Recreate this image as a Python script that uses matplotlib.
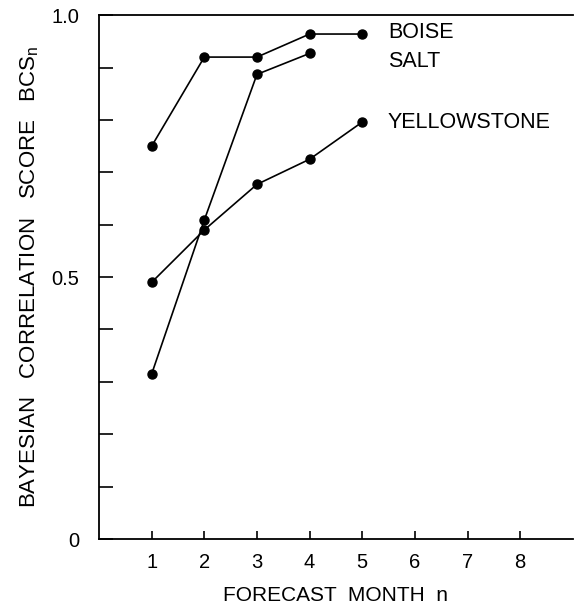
import matplotlib
matplotlib.use("Agg")
import matplotlib.pyplot as plt

plt.rcParams["font.family"] = ["Liberation Sans", "DejaVu Sans"]

# forecast month n
months_boise = [1, 2, 3, 4, 5]
bcs_boise = [0.75, 0.92, 0.92, 0.964, 0.964]

months_salt = [1, 2, 3, 4]
bcs_salt = [0.315, 0.609, 0.887, 0.927]

months_yellowstone = [1, 2, 3, 4, 5]
bcs_yellowstone = [0.49, 0.59, 0.677, 0.725, 0.796]

series_labels = ["BOISE", "SALT", "YELLOWSTONE"]
label_y = [0.967, 0.912, 0.796]

x_ticks = [1, 2, 3, 4, 5, 6, 7, 8]
y_ticks = [0, 0.1, 0.2, 0.3, 0.4, 0.5, 0.6, 0.7, 0.8, 0.9, 1.0]
y_ticklabels = ["0", "", "", "", "", "0.5", "", "", "", "", "1.0"]

fig = plt.figure(figsize=(5.74, 6.07), dpi=100)
ax = fig.add_axes([0.1725, 0.112, 0.8255, 0.863])

style = dict(color="black", lw=1.2, marker="o", markersize=6.5)
ax.plot(months_boise, bcs_boise, **style)
ax.plot(months_salt, bcs_salt, **style)
ax.plot(months_yellowstone, bcs_yellowstone, **style)

for lab, yv in zip(series_labels, label_y):
    ax.text(5.49, yv, lab, fontsize=15.5, va="center", ha="left")

ax.set_xlim(0, 9)
ax.set_ylim(0, 1.0)
ax.set_xticks(x_ticks)
ax.set_yticks(y_ticks)
ax.set_yticklabels(y_ticklabels)
ax.tick_params(axis="y", direction="in", length=10, width=1.2, pad=14, labelsize=14.5)
ax.tick_params(axis="x", direction="in", length=6, width=1.2, pad=10, labelsize=14.5)

for s in ax.spines.values():
    s.set_linewidth(1.3)
ax.spines["right"].set_visible(False)

ax.set_xlabel("FORECAST  MONTH  n", fontsize=15, labelpad=10)
ax.set_ylabel("BAYESIAN   CORRELATION   SCORE   BCS$_\\mathregular{n}$",
              fontsize=16, labelpad=8)

fig.savefig("out.png", dpi=100)
